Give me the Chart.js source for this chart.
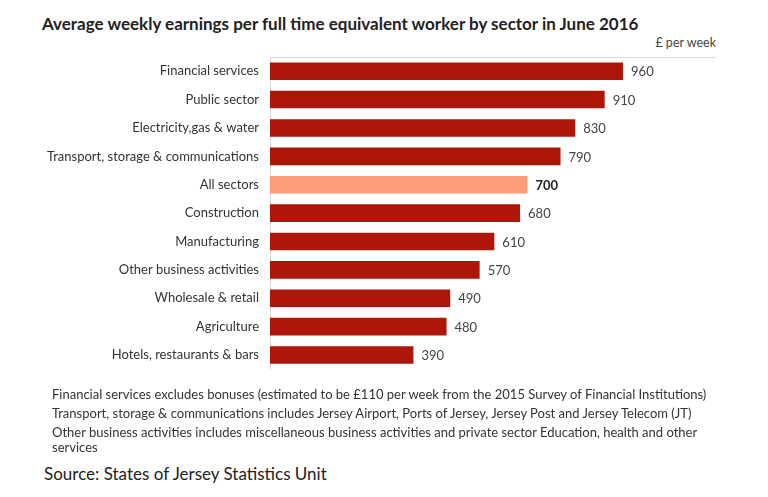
<!DOCTYPE html>
<html>
<head>
<meta charset="utf-8">
<script src="https://cdn.jsdelivr.net/npm/chart.js@4"></script>
<style>
  body { margin: 0; background: #fff; font-family: Lato, sans-serif; }
  #wrap { position: relative; width: 768px; height: 497px; overflow: hidden; }
  #chartBox { position: absolute; left: 0; top: 0; width: 768px; height: 388px; }
  .title { position: absolute; left: 42px; top: 13px; font-size: 17px; font-weight: bold; color: #222; white-space: nowrap; }
  .unit { position: absolute; right: 52px; top: 35px; font-size: 12.5px; color: #444; }
  .notes { position: absolute; left: 52px; top: 385px; width: 665px; font-size: 13px; line-height: 19px; color: #333; }
  .notes div.wrapline { line-height: 15px; margin-top: 2px; }
  .source { position: absolute; left: 44px; top: 463px; font-size: 17px; color: #222; }
</style>
</head>
<body>
<div id="wrap">
  <div class="title">Average weekly earnings per full time equivalent worker by sector in June 2016</div>
  <div class="unit">£ per week</div>
  <div id="chartBox"><canvas id="earningsChart"></canvas></div>
  <div class="notes">
    <div>Financial services excludes bonuses (estimated to be £110 per week from the 2015 Survey of Financial Institutions)</div>
    <div>Transport, storage &amp; communications includes Jersey Airport, Ports of Jersey, Jersey Post and Jersey Telecom (JT)</div>
    <div class="wrapline">Other business activities includes miscellaneous business activities and private sector Education, health and other services</div>
  </div>
  <div class="source">Source: States of Jersey Statistics Unit</div>
</div>
<script>
const sectors = [
    'Financial services',
    'Public sector',
    'Electricity,gas & water',
    'Transport, storage & communications',
    'All sectors',
    'Construction',
    'Manufacturing',
    'Other business activities',
    'Wholesale & retail',
    'Agriculture',
    'Hotels, restaurants & bars'
];
const earnings = [960, 910, 830, 790, 700, 680, 610, 570, 490, 480, 390];
const highlight = 'All sectors';

const barColor = '#ad1709';
const highlightColor = '#fd9c7a';

// Value labels at the end of each bar
const valueLabels = {
    id: 'valueLabels',
    afterDatasetsDraw(chart) {
        const ctx = chart.ctx;
        const meta = chart.getDatasetMeta(0);
        ctx.save();
        ctx.textBaseline = 'middle';
        ctx.textAlign = 'left';
        meta.data.forEach((bar, i) => {
            const bold = sectors[i] === highlight;
            ctx.font = (bold ? 'bold ' : '') + '13px Lato, sans-serif';
            ctx.fillStyle = bold ? '#222' : '#444';
            ctx.fillText(earnings[i], bar.x + 8, bar.y + 1);
        });
        ctx.restore();
    }
};

new Chart(document.getElementById('earningsChart').getContext('2d'), {
    type: 'bar',
    data: {
        labels: sectors,
        datasets: [
            {
                data: earnings,
                backgroundColor: sectors.map(s => s === highlight ? highlightColor : barColor),
                barPercentage: 0.62,
                categoryPercentage: 1,
            },
        ],
    },
    options: {
        indexAxis: 'y',
        responsive: true,
        maintainAspectRatio: false,
        animation: false,
        layout: {
            padding: { left: 0, right: 53, top: 57, bottom: 0 },
        },
        plugins: {
            legend: { display: false },
            tooltip: { enabled: false },
        },
        scales: {
            x: {
                position: 'top',
                min: 0,
                max: 1210,
                grid: { display: false, drawTicks: false },
                ticks: { display: false },
                border: { display: true, color: '#d9d9d9', width: 1 },
            },
            y: {
                grid: { display: false, drawTicks: false },
                border: { display: true, color: '#d9d9d9', width: 1 },
                ticks: {
                    padding: 11,
                    color: '#333',
                    font: { family: 'Lato, sans-serif', size: 13 },
                },
                afterFit(scale) {
                    scale.width = 270; // left edge of bars
                },
            },
        },
    },
    plugins: [valueLabels],
});
</script>
</body>
</html>
